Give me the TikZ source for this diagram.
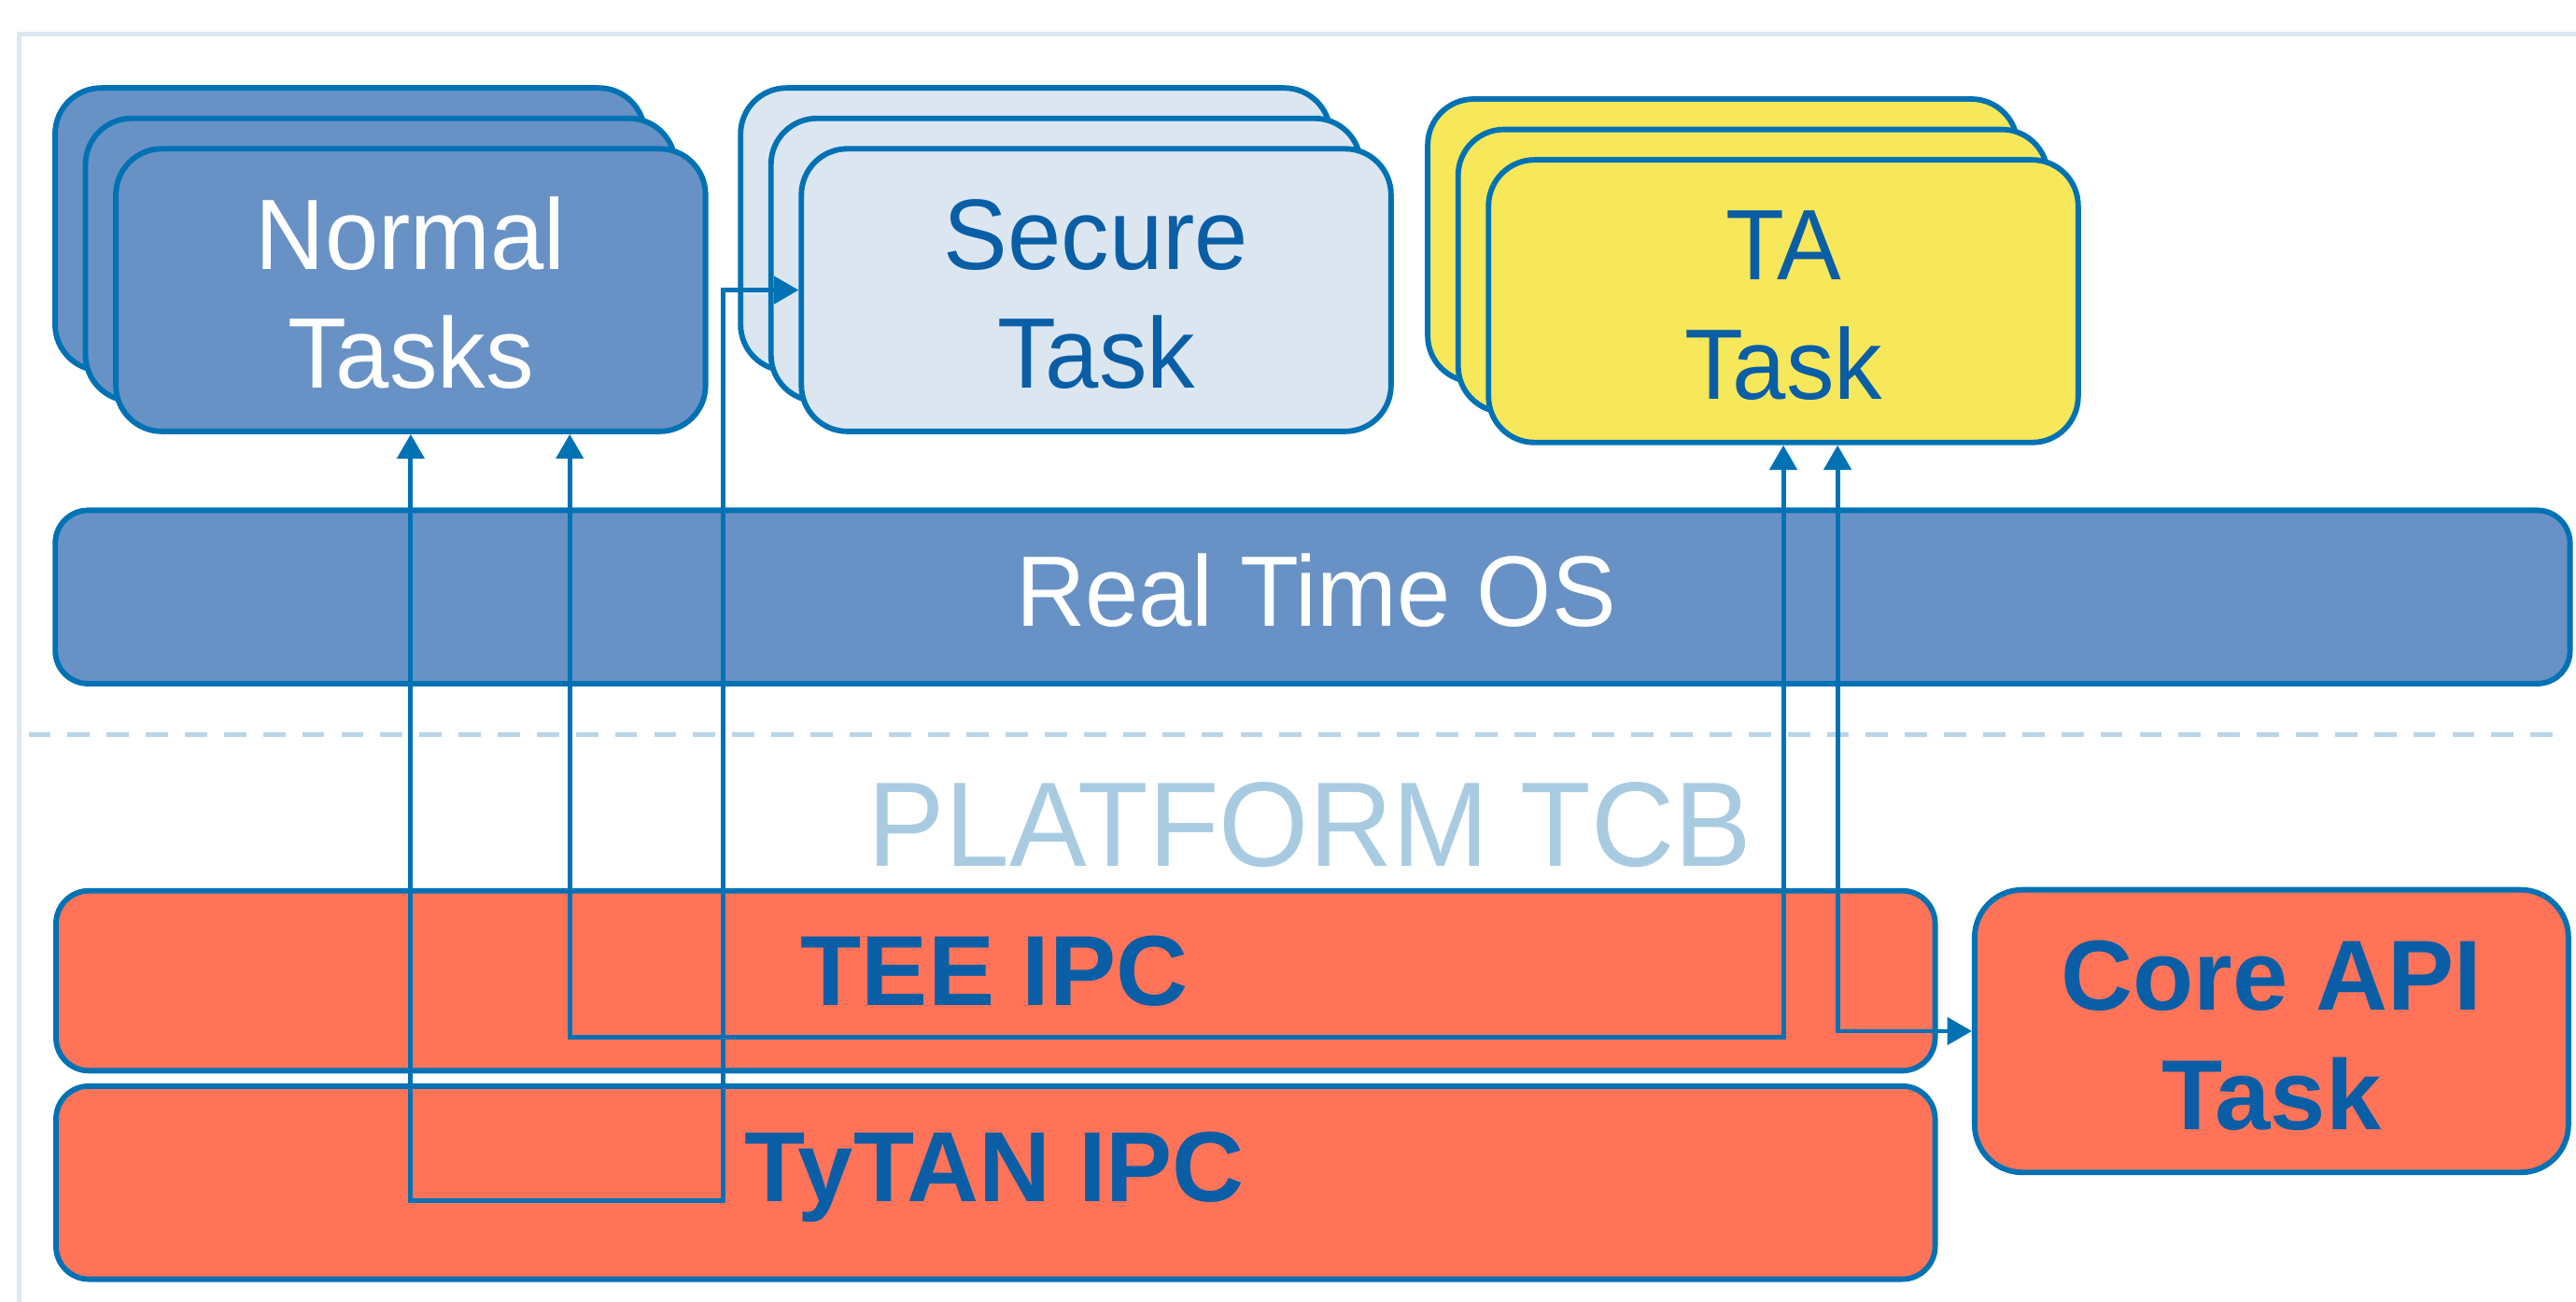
\documentclass[tikz,border=0pt]{standalone}
\usepackage{fontspec}
\setmainfont{Liberation Sans}
\newfontfamily\narrowsans{Liberation Sans}[FakeStretch=0.96]
\usetikzlibrary{arrows.meta,calc}

\definecolor{edgeblue}{RGB}{0,114,180}
\definecolor{inkblue}{RGB}{10,94,166}
\definecolor{osblue}{RGB}{104,146,197}
\definecolor{paleblue}{RGB}{219,230,241}
\definecolor{tayellow}{RGB}{246,232,90}
\definecolor{ipccoral}{RGB}{255,116,89}
\definecolor{tcbtext}{RGB}{169,203,226}
\definecolor{tcbdash}{RGB}{185,213,232}
\definecolor{framegray}{RGB}{220,231,242}

\begin{document}
\begin{tikzpicture}[x=0.02cm,y=-0.02cm,
  box/.style={draw=edgeblue,line width=1.9pt,inner sep=0pt},
  taskbox/.style={box,rounded corners=0.56cm,minimum width=7.18cm,minimum height=3.44cm},
  barbox/.style={box,rounded corners=0.4cm},
  regtext/.style={anchor=base,inner sep=0pt,font=\narrowsans\fontsize{34.7pt}{40pt}\selectfont},
  boldtext/.style={anchor=base,inner sep=0pt,text=inkblue,font=\bfseries\fontsize{34.5pt}{40pt}\selectfont},
  conn/.style={draw=edgeblue,line width=1.6pt},
  tip/.tip={Triangle[length=0.3cm,width=0.33cm]}
]
\useasboundingbox (0,0) rectangle (1568,792);

% page frame and platform boundary
\draw[framegray,line width=1.6pt] (11.7,792) -- (11.7,20.5) -- (1568,20.5);
\draw[tcbdash,line width=1.8pt,dash pattern=on 0.27cm off 0.206cm] (17.4,447) -- (1562,447);

% normal tasks stack
\node[taskbox,fill=osblue] (normal-back) at (213,139.5) {};
\node[taskbox,fill=osblue] (normal-mid) at (231.5,158) {};
\node[taskbox,fill=osblue] (normal) at (250,176.5) {};
\node[regtext,text=white] (normal-l1) at (250,163.9) {Normal};
\node[regtext,text=white] (normal-l2) at (250,236.4) {Tasks};

% secure task stack
\node[taskbox,fill=paleblue] (secure-back) at (630.25,139.5) {};
\node[taskbox,fill=paleblue] (secure-mid) at (648.75,158) {};
\node[taskbox,fill=paleblue] (secure) at (667.25,176.5) {};
\node[regtext,text=inkblue] (secure-l1) at (667.25,163.9) {Secure};
\node[regtext,text=inkblue] (secure-l2) at (667.25,236.4) {Task};

% trusted application stack
\node[taskbox,fill=tayellow] (ta-back) at (1048.5,146.25) {};
\node[taskbox,fill=tayellow] (ta-mid) at (1067,164.75) {};
\node[taskbox,fill=tayellow] (ta) at (1085.5,183.25) {};
\node[regtext,text=inkblue] (ta-l1) at (1085.5,170.1) {TA};
\node[regtext,text=inkblue] (ta-l2) at (1085.5,243) {Task};

% operating system layer
\node[barbox,fill=osblue,minimum width=30.62cm,minimum height=2.11cm] (rtos) at (799,363.25) {};
\node[regtext,text=white] (rtos-l) at (801,381) {Real Time OS};

\node[anchor=base,inner sep=0pt,text=tcbtext,font=\narrowsans\fontsize{41.7pt}{48pt}\selectfont] (tcb) at (797.5,527) {PLATFORM TCB};

% platform layers
\node[barbox,fill=ipccoral,minimum width=22.88cm,minimum height=2.19cm] (tee) at (606,596.75) {};
\node[boldtext] (tee-l) at (605.4,612) {TEE IPC};
\node[barbox,fill=ipccoral,minimum width=22.88cm,minimum height=2.35cm] (tytan) at (606,719.6) {};
\node[boldtext] (tytan-l) at (605.4,731) {TyTAN IPC};
\node[box,fill=ipccoral,rounded corners=0.58cm,minimum width=7.23cm,minimum height=3.44cm] (core) at (1382.65,627.4) {};
\node[boldtext] (core-l1) at (1382.65,614.7) {Core API};
\node[boldtext] (core-l2) at (1382.65,687.3) {Task};

% connectors
\coordinate (c1a) at (250,730.3);
\coordinate (c1b) at (440.2,730.3);
\coordinate (c1c) at (440.2,176.5);
\draw[conn,{tip}-{tip}] (normal.south) -- (c1a) -- (c1b) -- (c1c) -- (secure.west);

\coordinate (c2a) at (346.8,631.3);
\coordinate (c2b) at (1085.5,631.3);
\draw[conn,{tip}-{tip}] (c2a |- normal.south) -- (c2a) -- (c2b) -- (ta.south);

\coordinate (c3a) at (1118.5,627.4);
\draw[conn,{tip}-{tip}] (c3a |- ta.south) -- (c3a) -- (core.west);
\end{tikzpicture}
\end{document}
